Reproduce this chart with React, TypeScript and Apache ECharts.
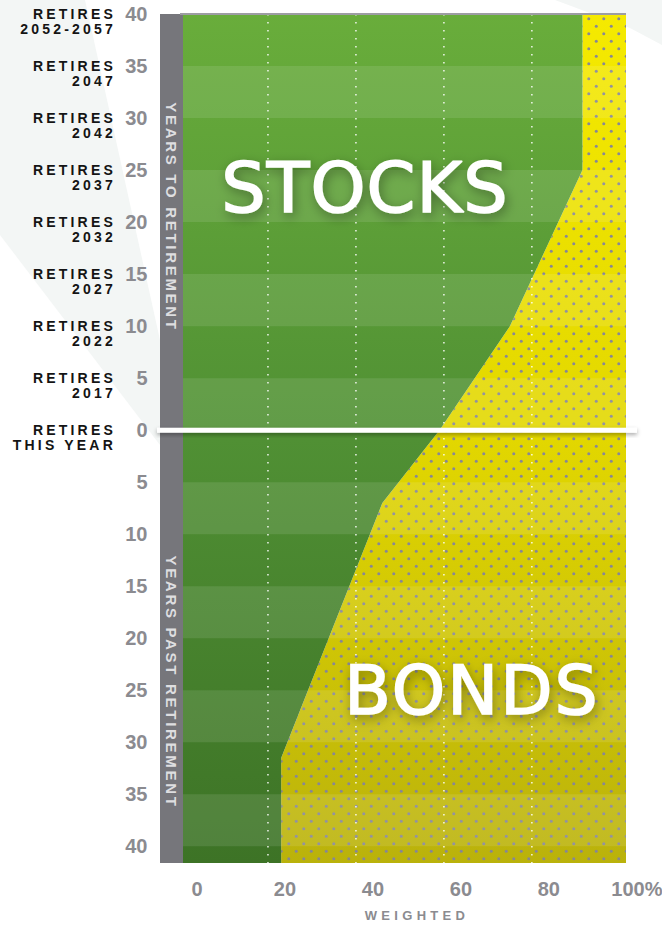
import React, { useEffect, useRef } from 'react';
import * as echarts from 'echarts';

// ---- data ----
// years relative to retirement (negative = years to retirement, positive = years past)
const glideYears = [-40, -25, -10, 0, 7, 31.5, 40];
// stock weight (%) at those points; the rest is bonds
const stockPct = [91.5, 91.5, 75, 59, 46, 23, 23];
const retireTicks = [-40, -35, -30, -25, -20, -15, -10, -5, 0];
const retireLabels = [
  'RETIRES\n2052-2057',
  'RETIRES\n2047',
  'RETIRES\n2042',
  'RETIRES\n2037',
  'RETIRES\n2032',
  'RETIRES\n2027',
  'RETIRES\n2022',
  'RETIRES\n2017',
  'RETIRES\nTHIS YEAR',
];
const lighterBands = [
  [-35, -30], [-25, -20], [-15, -10], [-5, 0],
  [5, 10], [15, 20], [25, 30], [35, 40],
];
const gridLineValues = [20, 40, 60, 80];
const xTickValues = [0, 20, 40, 60, 80, 100];

const Y_MIN = -40;
const Y_MAX = 41.6;
const X_MIN = 0;
const X_MAX = 101.4;

function makeDotPattern() {
  const c = document.createElement('canvas');
  c.width = 15;
  c.height = 15;
  const ctx = c.getContext('2d');
  if (ctx) {
    ctx.fillStyle = '#878796';
    ctx.beginPath();
    ctx.arc(3.75, 3.75, 1.5, 0, Math.PI * 2);
    ctx.fill();
    ctx.beginPath();
    ctx.arc(11.25, 11.25, 1.5, 0, Math.PI * 2);
    ctx.fill();
  }
  return c;
}

export default function App() {
  const ref = useRef<HTMLDivElement>(null);
  useEffect(() => {
    const el = ref.current;
    if (!el) return;
    const chart = echarts.init(el, undefined, { renderer: 'svg' });
    const pattern = makeDotPattern();
    const numFont = "'Liberation Sans Narrow', 'Arial Narrow', Arial, sans-serif";

    const option: any = {
      animation: false,
      backgroundColor: '#ffffff',
      grid: {
        left: 180,
        top: 14,
        width: 446,
        height: 849,
        containLabel: false,
        outerBoundsMode: 'none',
      },
      xAxis: [
        {
          type: 'value',
          position: 'bottom',
          min: X_MIN,
          max: X_MAX,
          interval: 20,
          axisLine: { show: false },
          axisTick: { show: false },
          splitLine: { show: false },
          axisLabel: {
            margin: 16,
            padding: [0, 0, 0, 34],
            color: '#8b8b90',
            fontFamily: numFont,
            fontWeight: 'bold',
            fontSize: 20,
            showMaxLabel: true,
            formatter: (v: number) =>
              xTickValues.indexOf(v) >= 0 ? (v === 100 ? '100%' : String(v)) : '',
          },
          name: 'WEIGHTED',
          nameLocation: 'middle',
          nameGap: 46,
          nameTextStyle: {
            color: '#8b8b90',
            fontFamily: 'Liberation Sans, Arial, sans-serif',
            fontWeight: 'bold',
            fontSize: 13,
            padding: [0, 0, 0, 28],
          },
        },
        {
          type: 'value',
          position: 'top',
          min: X_MIN,
          max: X_MAX,
          z: 5,
          axisLine: { show: true, onZero: false, lineStyle: { color: '#9d9da3', width: 2, cap: 'butt' } },
          axisTick: { show: false },
          axisLabel: { show: false },
          splitLine: { show: false },
        },
      ],
      yAxis: [
        {
          type: 'value',
          inverse: true,
          min: Y_MIN,
          max: Y_MAX,
          interval: 5,
          position: 'left',
          offset: 8.5,
          z: 5,
          axisLine: { show: true, onZero: false, lineStyle: { color: '#76767b', width: 23, cap: 'butt' } },
          axisTick: { show: false },
          splitLine: { show: false },
          axisLabel: {
            margin: 24,
            color: '#8b8b90',
            fontFamily: numFont,
            fontWeight: 'bold',
            fontSize: 20,
            formatter: (v: number) => (Math.abs(v % 5) < 1e-6 ? String(Math.abs(v)) : ''),
          },
        },
        {
          type: 'value',
          inverse: true,
          min: Y_MIN,
          max: Y_MAX,
          interval: 5,
          position: 'left',
          offset: 64,
          axisLine: { show: false },
          axisTick: { show: false },
          splitLine: { show: false },
          axisLabel: {
            margin: 0,
            color: '#141414',
            fontFamily: 'Liberation Sans, Arial, sans-serif',
            fontWeight: 'bold',
            fontSize: 14,
            lineHeight: 15,
            formatter: (v: number) => {
              const i = retireTicks.indexOf(v);
              // leading empty line lowers the two-line block below the tick
              return i >= 0 ? '\n' + retireLabels[i] : '';
            },
          },
        },
      ],
      series: [
        {
          name: 'Glide path',
          type: 'custom',
          coordinateSystem: 'cartesian2d',
          xAxisIndex: 0,
          yAxisIndex: 0,
          encode: { x: 0, y: 1 },
          data: glideYears.map((y, i) => [stockPct[i], y]),
          z: 2,
          renderItem: (params: any, api: any) => {
            if (params.dataIndex !== 0) return null;
            const pts = glideYears.map((y, i) => api.coord([stockPct[i], y]));
            const last = stockPct[stockPct.length - 1];
            const boundary = [...pts, api.coord([last, Y_MAX])];
            const leftTop = api.coord([X_MIN, Y_MIN]);
            const leftBottom = api.coord([X_MIN, Y_MAX]);
            const rightTop = api.coord([X_MAX, Y_MIN]);
            const rightBottom = api.coord([X_MAX, Y_MAX]);
            const green = [leftTop, ...boundary, leftBottom];
            const yellow = [...boundary, rightBottom, rightTop];
            const children: any[] = [
              {
                type: 'polygon',
                shape: { points: yellow },
                style: {
                  fill: new echarts.graphic.LinearGradient(0, 0, 0, 1, [
                    { offset: 0, color: '#f5ea00' },
                    { offset: 0.5, color: '#e2d700' },
                    { offset: 1, color: '#bab20b' },
                  ]),
                },
              },
              {
                type: 'polygon',
                shape: { points: yellow },
                style: {
                  fill: { image: pattern, repeat: 'repeat', imageWidth: 15, imageHeight: 15 },
                },
              },
              {
                type: 'polygon',
                shape: { points: green },
                style: {
                  fill: new echarts.graphic.LinearGradient(0, 0, 0, 1, [
                    { offset: 0, color: '#69ad3b' },
                    { offset: 0.5, color: '#509034' },
                    { offset: 1, color: '#3d7326' },
                  ]),
                },
              },
            ];
            lighterBands.forEach(([a, b]) => {
              const p1 = api.coord([X_MIN, a]);
              const p2 = api.coord([X_MAX, b]);
              children.push({
                type: 'rect',
                shape: { x: p1[0], y: p1[1], width: p2[0] - p1[0], height: p2[1] - p1[1] },
                style: { fill: 'rgba(255,255,255,0.1)' },
              });
            });
            gridLineValues.forEach((v) => {
              const p1 = api.coord([v, Y_MIN]);
              const p2 = api.coord([v, Y_MAX]);
              children.push({
                type: 'line',
                shape: { x1: p1[0], y1: p1[1], x2: p2[0], y2: p2[1] },
                style: { stroke: 'rgba(255,255,255,0.9)', lineWidth: 1.5, lineDash: [1.5, 6.5] },
              });
            });
            return { type: 'group', children };
          },
        },
      ],
    };
    chart.setOption(option);

    const y0 = chart.convertToPixel({ yAxisIndex: 0 }, 0) as number;
    chart.setOption({
      graphic: [
        {
          type: 'polygon',
          z: -10,
          shape: { points: [[0, 0], [85, 0], [160, 340], [160, 445], [0, 235]] },
          style: { fill: '#f3f6f5' },
        },
        {
          type: 'polygon',
          z: -10,
          shape: { points: [[555, 0], [662, 0], [662, 45], [630, 28]] },
          style: { fill: '#f3f6f5' },
        },
        {
          type: 'rect',
          z: 50,
          shape: { x: 157, y: y0 - 2.5, width: 480, height: 5 },
          style: {
            fill: '#ffffff',
            shadowBlur: 4,
            shadowOffsetY: 2,
            shadowColor: 'rgba(0,0,0,0.35)',
          },
        },
        {
          type: 'text',
          z: 60,
          x: 171.5,
          y: 217,
          rotation: -Math.PI / 2,
          style: {
            text: 'YEARS TO RETIREMENT',
            fill: '#dedee0',
            font: "bold 15px 'Liberation Sans', Arial, sans-serif",
            align: 'center',
            verticalAlign: 'middle',
          },
        },
        {
          type: 'text',
          z: 60,
          x: 171.5,
          y: 682,
          rotation: -Math.PI / 2,
          style: {
            text: 'YEARS PAST RETIREMENT',
            fill: '#dedee0',
            font: "bold 15px 'Liberation Sans', Arial, sans-serif",
            align: 'center',
            verticalAlign: 'middle',
          },
        },
        {
          type: 'text',
          z: 60,
          x: 365,
          y: 188,
          style: {
            text: 'STOCKS',
            fill: '#ffffff',
            stroke: '#ffffff',
            lineWidth: 1.5,
            font: "70px 'DejaVu Sans', sans-serif",
            align: 'center',
            verticalAlign: 'middle',
            textShadowBlur: 12,
            textShadowOffsetY: 4,
            textShadowOffsetX: 2,
            textShadowColor: 'rgba(0,0,0,0.35)',
          },
        },
        {
          type: 'text',
          z: 60,
          x: 472,
          y: 690,
          style: {
            text: 'BONDS',
            fill: '#ffffff',
            stroke: '#ffffff',
            lineWidth: 1.5,
            font: "68px 'DejaVu Sans', sans-serif",
            align: 'center',
            verticalAlign: 'middle',
            textShadowBlur: 12,
            textShadowOffsetY: 4,
            textShadowOffsetX: 2,
            textShadowColor: 'rgba(0,0,0,0.35)',
          },
        },
      ],
    });

    const applySpacing = () => {
      el.querySelectorAll('text').forEach((t) => {
        const s = (t.textContent || '').trim();
        let ls = '';
        if (s === 'RETIRES' || s === 'THIS YEAR' || /^\d{4}(-\d{4})?$/.test(s)) ls = '3.2px';
        else if (s.indexOf('YEARS') === 0) ls = '2.7px';
        else if (s === 'WEIGHTED') ls = '4.3px';
        else if (s === 'STOCKS') ls = '1px';
        else if (s === 'BONDS') ls = '2px';
        if (ls) (t as SVGTextElement).style.letterSpacing = ls;
      });
    };
    applySpacing();
    chart.on('finished', applySpacing);
    const raf = requestAnimationFrame(applySpacing);
    const tm = setTimeout(applySpacing, 50);

    return () => {
      cancelAnimationFrame(raf);
      clearTimeout(tm);
      chart.dispose();
    };
  }, []);

  return (
    <div
      ref={ref}
      style={{ position: 'fixed', left: 0, top: 0, width: 662, height: 925 }}
    />
  );
}
